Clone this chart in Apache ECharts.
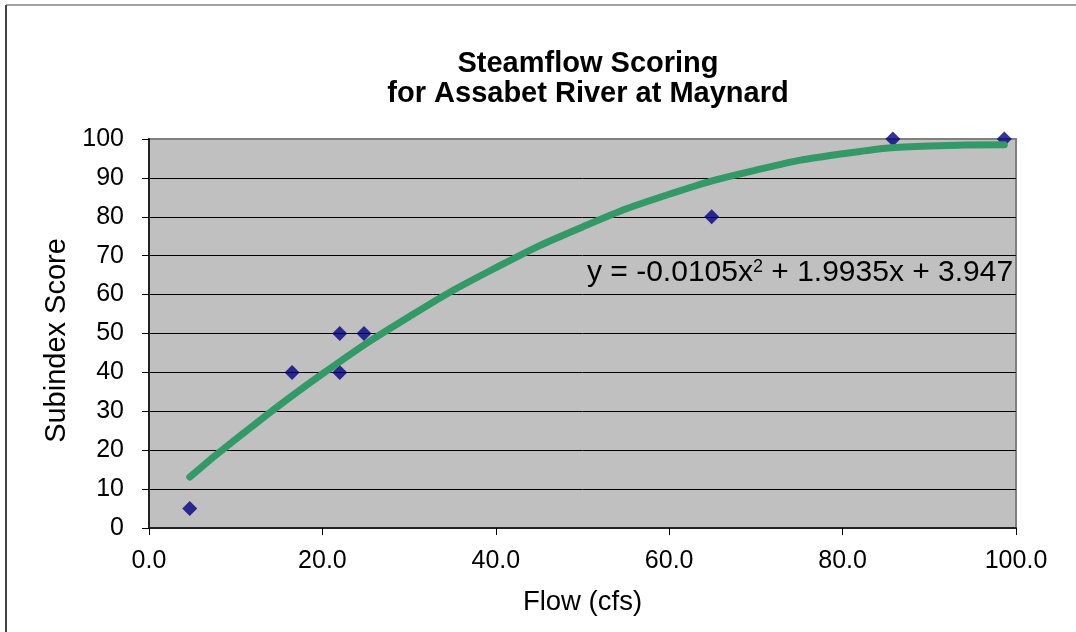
<!DOCTYPE html>
<html>
<head>
<meta charset="utf-8">
<script src="https://cdn.jsdelivr.net/npm/echarts@6/dist/echarts.min.js"></script>
<style>
  html, body { margin: 0; padding: 0; background: #fff; }
  #chart { width: 1076px; height: 632px; }
</style>
</head>
<body>
<div id="chart"></div>
<script>
// observed points (flow cfs, subindex score)
var flowValues = [4.7, 16.5, 22.0, 22.0, 24.8, 64.9, 85.8, 98.65];
var scoreValues = [5, 40, 50, 40, 50, 80, 100, 100];

// trendline
var trendFlow = [4.7, 10, 20, 30, 40, 50, 60, 70, 80, 90, 98.65];
var trendScore = [13.1, 22.8, 39.6, 54.3, 66.9, 77.4, 85.8, 92.0, 96.2, 98.2, 98.5];

var xTicks = [0, 20, 40, 60, 80, 100];
var yTicks = [0, 10, 20, 30, 40, 50, 60, 70, 80, 90, 100];

var fontName = 'Liberation Sans, Arial, sans-serif';

function pairs(xs, ys) {
    var out = [];
    for (var i = 0; i < xs.length; i++) {
        out.push([xs[i], ys[i]]);
    }
    return out;
}

var chart = echarts.init(document.getElementById('chart'));

var option = {
    animation: false,
    backgroundColor: '#ffffff',
    title: {
        text: 'Steamflow Scoring\nfor Assabet River at Maynard',
        left: 583,
        top: 44,
        textAlign: 'center',
        textStyle: {
            fontFamily: fontName,
            fontSize: 29,
            fontWeight: 'bold',
            color: '#000',
            lineHeight: 30
        }
    },
    grid: {
        left: 149,
        top: 139,
        right: 60,
        bottom: 104,
        show: true,
        backgroundColor: '#c0c0c0',
        borderColor: '#808080',
        borderWidth: 2
    },
    xAxis: {
        type: 'value',
        min: xTicks[0],
        max: xTicks[xTicks.length - 1],
        interval: 20,
        name: 'Flow (cfs)',
        nameLocation: 'middle',
        nameGap: 60,
        nameTextStyle: { fontFamily: fontName, fontSize: 27.5, color: '#000' },
        axisLine: { show: true, onZero: false, lineStyle: { color: '#222', width: 2 } },
        axisTick: { show: true, length: 7, inside: false, lineStyle: { color: '#000' } },
        axisLabel: {
            margin: 21,
            fontFamily: fontName,
            fontSize: 25,
            color: '#000',
            formatter: function (v) { return v.toFixed(1); }
        },
        splitLine: { show: false }
    },
    yAxis: {
        type: 'value',
        min: yTicks[0],
        max: yTicks[yTicks.length - 1],
        interval: 10,
        name: 'Subindex Score',
        nameLocation: 'middle',
        nameGap: 72,
        nameTextStyle: { fontFamily: fontName, fontSize: 29, color: '#000', padding: [0, 14, 0, 0] },
        axisLine: { show: true, onZero: false, lineStyle: { color: '#222', width: 2 } },
        axisTick: { show: true, length: 7, inside: false, lineStyle: { color: '#000' } },
        axisLabel: {
            margin: 25,
            fontFamily: fontName,
            fontSize: 25,
            color: '#000'
        },
        splitLine: { show: true, showMaxLine: false, lineStyle: { color: '#000', width: 1 } }
    },
    series: [
        {
            name: 'Score',
            type: 'scatter',
            symbol: 'diamond',
            symbolSize: [15, 15],
            itemStyle: { color: '#000080' },
            data: pairs(flowValues, scoreValues),
            z: 2
        },
        {
            name: 'Trend',
            type: 'line',
            smooth: true,
            showSymbol: false,
            symbol: 'none',
            lineStyle: { color: '#339966', width: 7, cap: 'round', join: 'round' },
            data: pairs(trendFlow, trendScore),
            z: 3
        }
    ],
    graphic: [
        // outer frame (cut by picture edges on right and bottom)
        { type: 'line', shape: { x1: 6, y1: 5, x2: 1076, y2: 5 }, style: { stroke: '#a0a0a0', lineWidth: 2 } },
        { type: 'line', shape: { x1: 6, y1: 5, x2: 6, y2: 632 }, style: { stroke: '#444', lineWidth: 2 } },
        {
            type: 'text',
            left: 587,
            top: 258,
            z: 10,
            style: {
                text: '{a|y = -0.0105x}{s|2}{a| + 1.9935x + 3.947}',
                rich: {
                    a: { fontFamily: fontName, fontSize: 30, fill: '#000', verticalAlign: 'bottom' },
                    s: { fontFamily: fontName, fontSize: 18, fill: '#000', verticalAlign: 'top' }
                }
            }
        }
    ]
};

chart.setOption(option);
</script>
</body>
</html>
